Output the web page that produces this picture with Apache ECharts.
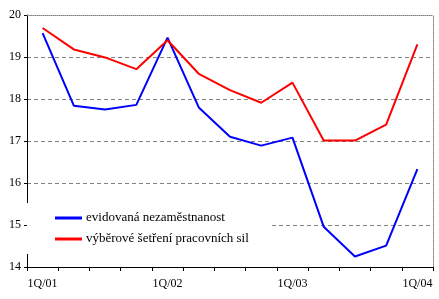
<!DOCTYPE html>
<html>
<head>
<meta charset="utf-8">
<script src="https://cdn.jsdelivr.net/npm/echarts@6/dist/echarts.min.js"></script>
<style>html,body{margin:0;padding:0;background:#fff;}#c{width:439px;height:299px;}</style>
</head>
<body>
<div id="c"></div>
<script>
const categories = ['1Q/01','2Q/01','3Q/01','4Q/01','1Q/02','2Q/02','3Q/02','4Q/02','1Q/03','2Q/03','3Q/03','4Q/03','1Q/04'];
const evidovana = [19.57, 17.84, 17.75, 17.86, 19.46, 17.8, 17.1, 16.89, 17.08, 14.96, 14.25, 14.51, 16.33];
const vyberove = [19.69, 19.18, 18.99, 18.71, 19.4, 18.6, 18.21, 17.91, 18.39, 17.01, 17.01, 17.39, 19.3];
const seriesNames = ['evidovaná nezaměstnanost', 'výběrové šetření pracovních sil'];
const yTicks = [14, 15, 16, 17, 18, 19, 20];

const font = '"Liberation Serif", "Times New Roman", serif';
const chart = echarts.init(document.getElementById('c'), null, {renderer: 'canvas'});
chart.setOption({
  animation: false,
  backgroundColor: '#fff',
  grid: {left: 27, top: 15, right: 6, bottom: 32, containLabel: false},
  legend: {
    orient: 'vertical',
    left: 27, top: 203,
    padding: [8, 22, 8, 28],
    backgroundColor: '#fff',
    itemWidth: 27, itemHeight: 3, itemGap: 7,
    icon: 'rect',
    data: seriesNames,
    textStyle: {fontFamily: font, fontSize: 13, color: '#000', lineHeight: 14, padding: [0,0,0,-1]}
  },
  xAxis: [{
    type: 'category', data: categories, boundaryGap: true,
    axisLine: {lineStyle: {color: '#000', width: 1}},
    axisTick: {show: true, interval: 0, length: 4, lineStyle: {color: '#000'}},
    axisLabel: {interval: 3, fontFamily: font, fontSize: 12, color: '#000', margin: 11},
    splitLine: {show: false}
  }, {
    type: 'category', data: categories, position: 'top', boundaryGap: true,
    axisLine: {lineStyle: {color: '#808080', width: 1, type: [1, 1]}},
    axisTick: {show: false}, axisLabel: {show: false}
  }],
  yAxis: [{
    type: 'value', min: yTicks[0], max: yTicks[yTicks.length - 1], interval: 1,
    axisLine: {show: true, lineStyle: {color: '#000', width: 1}},
    axisTick: {show: true, length: 3, lineStyle: {color: '#000'}},
    axisLabel: {fontFamily: font, fontSize: 12, color: '#000', margin: 6},
    splitLine: {show: true, showMaxLine: false, showMinLine: false, lineStyle: {color: '#808080', width: 1, type: [4, 3]}}
  }, {
    type: 'value', position: 'right', min: yTicks[0], max: yTicks[yTicks.length - 1], interval: 1,
    axisLine: {show: true, lineStyle: {color: '#808080', width: 1, type: [1, 1]}},
    axisTick: {show: false}, axisLabel: {show: false}, splitLine: {show: false}
  }],
  series: [{
    name: seriesNames[0], type: 'line', data: evidovana, symbol: 'none',
    lineStyle: {color: '#0000ff', width: 2}, itemStyle: {color: '#0000ff'}
  }, {
    name: seriesNames[1], type: 'line', data: vyberove, symbol: 'none',
    lineStyle: {color: '#ff0000', width: 2}, itemStyle: {color: '#ff0000'}
  }]
});
</script>
</body>
</html>
